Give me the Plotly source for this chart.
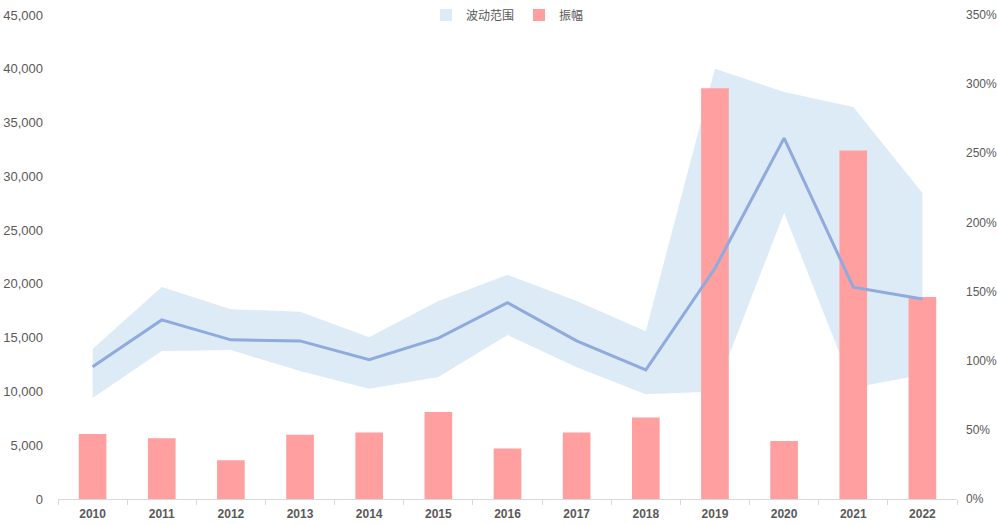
import plotly.graph_objects as go

years = ["2010", "2011", "2012", "2013", "2014", "2015", "2016",
         "2017", "2018", "2019", "2020", "2021", "2022"]
band_upper = [13950, 19700, 17650, 17400, 15050, 18400, 20850,
              18400, 15600, 40000, 37850, 36450, 28450]
band_lower = [9400, 13750, 13850, 11900, 10250, 11350, 15250,
              12250, 9750, 10000, 26600, 10350, 11550]
mid_line = [12300, 16650, 14800, 14700, 12950, 14950, 18250,
            14700, 12000, 21450, 33550, 19700, 18600]
amplitude = [0.47, 0.44, 0.28, 0.465, 0.48, 0.63, 0.365,
             0.48, 0.59, 2.97, 0.42, 2.52, 1.46]

left_ticks = list(range(0, 45001, 5000))
right_ticks = [i * 0.5 for i in range(8)]

grey = "#595959"
band_color = "#DDEBF7"
bar_color = "#FF9F9F"
line_color = "#8FAADC"
fig = go.Figure()

fig.add_trace(go.Scatter(x=years, y=band_lower, mode="lines",
                         line=dict(width=0, color=band_color),
                         showlegend=False, hoverinfo="skip", yaxis="y"))
fig.add_trace(go.Scatter(x=years, y=band_upper, mode="lines", fill="tonexty",
                         fillcolor=band_color, line=dict(width=0, color=band_color),
                         name="波动范围", showlegend=False, yaxis="y"))
# legend entry for the band (square swatch)
fig.add_trace(go.Bar(x=[None], y=[None], name="波动范围", marker_color=band_color,
                     yaxis="y", legendrank=1, hoverinfo="skip"))
fig.add_trace(go.Bar(x=years, y=amplitude, name="振幅", marker_color=bar_color,
                     width=0.4, yaxis="y2", legendrank=2))
fig.add_trace(go.Scatter(x=years, y=mid_line, mode="lines",
                         line=dict(width=3, color=line_color),
                         showlegend=False, yaxis="y3"))

fig.update_layout(
    template="none",
    width=997, height=524,
    margin=dict(l=58, r=40, t=15, b=25, autoexpand=False),
    paper_bgcolor="white", plot_bgcolor="white",
    font=dict(family="Liberation Sans, Arial, sans-serif", size=13, color=grey),
    showlegend=True,
    legend=dict(orientation="h", x=0.5, xanchor="center", y=1.0, yanchor="middle",
                font=dict(family="Noto Sans CJK SC", size=12, color=grey),
                bgcolor="rgba(0,0,0,0)", itemwidth=30, traceorder="normal"),
    barmode="overlay",
    xaxis=dict(type="category", range=[-0.5, 12.5], showline=True,
               linecolor="#D9D9D9", linewidth=1, ticks="outside",
               tickson="boundaries", ticklen=5, tickcolor="#D9D9D9",
               showgrid=False, zeroline=False, ticklabelstandoff=4,
               tickfont=dict(family="Liberation Sans, Arial", size=12, color=grey,
                             weight="bold")),
    yaxis=dict(range=[0, 45000], tickvals=left_ticks, tickformat=",",
               showgrid=False, zeroline=False, showline=False, ticks="",
               tickfont=dict(size=13, color=grey), ticklabelstandoff=14),
    yaxis2=dict(range=[0, 3.5], tickvals=right_ticks, tickformat=".0%",
                overlaying="y", side="right", showgrid=False, zeroline=False,
                showline=False, ticks="", tickfont=dict(size=12, color=grey),
                ticklabelstandoff=8),
    yaxis3=dict(range=[0, 45000], overlaying="y", visible=False,
                showgrid=False, zeroline=False),
)

fig.write_html("out.html", config={"displayModeBar": False},
               post_script="document.body.style.margin='0px';"
                           "document.body.style.overflow='hidden';")
